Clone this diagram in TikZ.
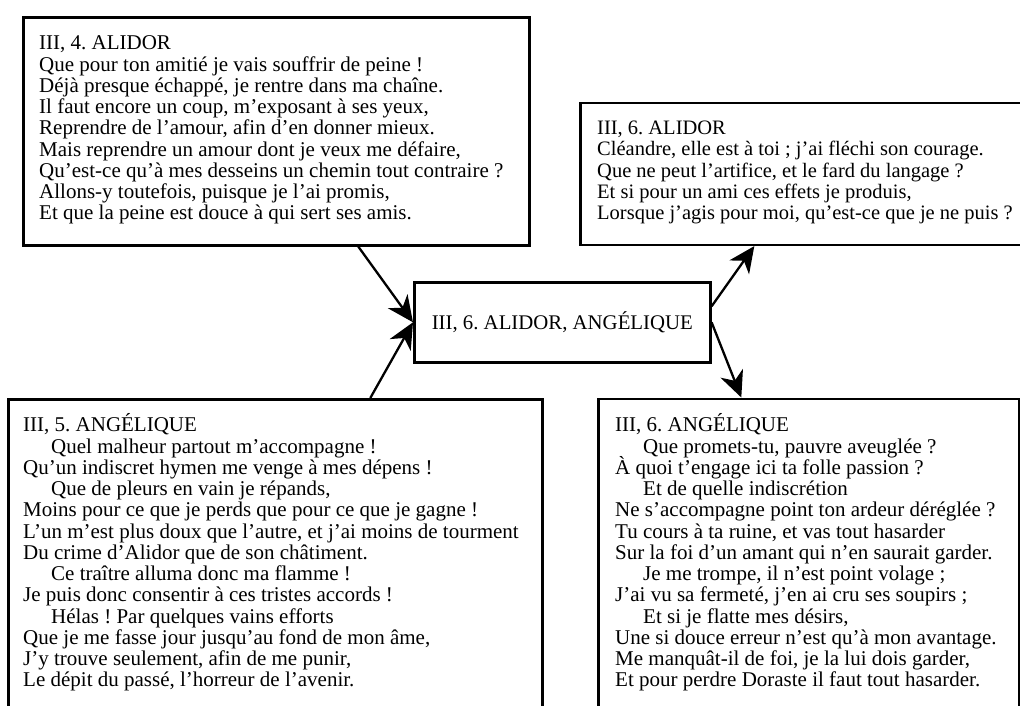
\documentclass[tikz,border=0pt]{standalone}
\usepackage{fontspec}
\setmainfont{Liberation Serif}
\usetikzlibrary{arrows.meta}
\newcommand\fstrut{\rule{0pt}{20pt}}
\newcommand\ind{\hspace*{28pt}}
\newcommand\versefont{\fontsize{21pt}{21.25pt}\selectfont\frenchspacing
  \lineskiplimit -100pt\relax \lineskip 0pt\relax}
\newcommand\narrowfont{\fontsize{20.5pt}{21.25pt}\selectfont\frenchspacing
  \lineskiplimit -100pt\relax \lineskip 0pt\relax}
\newcommand\centrefont{\fontsize{20.8pt}{21.25pt}\selectfont\frenchspacing}
\tikzset{
  box/.style={draw, line width=2.6pt, inner sep=0pt, anchor=north west},
  verse/.style={inner sep=0pt, anchor=north west, align=left, font=\versefont},
  arr/.style={line width=2.3pt, -{Stealth[length=26pt,width=24pt,inset=8pt]}}
}
\begin{document}
\begin{tikzpicture}[x=1pt,y=-1pt]
\useasboundingbox (0,0) rectangle (1020,705);
% boxes
\node[box, minimum width=506pt, minimum height=228pt] (tl) at (22,16) {};
\node[box, minimum width=442pt, minimum height=142pt] (tr) at (579,101.5) {};
\node[box, minimum width=296pt, minimum height=80pt, font=\centrefont] (c) at (413,281) {III, 6. ALIDOR, ANGÉLIQUE};
\node[box, minimum width=534pt, minimum height=330pt] (bl) at (7,398) {};
\node[box, minimum width=421pt, minimum height=330pt] (br) at (597,397.5) {};
% texts
\node[verse] (tlt) at (39,29.6) {\fstrut III, 4. ALIDOR\\
Que pour ton amitié je vais souffrir de peine !\\
Déjà presque échappé, je rentre dans ma chaîne.\\
Il faut encore un coup, m’exposant à ses yeux,\\
Reprendre de l’amour, afin d’en donner mieux.\\
Mais reprendre un amour dont je veux me défaire,\\
Qu’est-ce qu’à mes desseins un chemin tout contraire ?\\
Allons-y toutefois, puisque je l’ai promis,\\
Et que la peine est douce à qui sert ses amis.};
\node[verse, font=\narrowfont] (trt) at (597,114.3) {\fstrut III, 6. ALIDOR\\
Cléandre, elle est à toi ; j’ai fléchi son courage.\\
Que ne peut l’artifice, et le fard du langage ?\\
Et si pour un ami ces effets je produis,\\
Lorsque j’agis pour moi, qu’est-ce que je ne puis ?};
\node[verse] (blt) at (23,411.7) {\fstrut III, 5. ANGÉLIQUE\\
\ind Quel malheur partout m’accompagne !\\
Qu’un indiscret hymen me venge à mes dépens !\\
\ind Que de pleurs en vain je répands,\\
Moins pour ce que je perds que pour ce que je gagne !\\
L’un m’est plus doux que l’autre, et j’ai moins de tourment\\
Du crime d’Alidor que de son châtiment.\\
\ind Ce traître alluma donc ma flamme !\\
Je puis donc consentir à ces tristes accords !\\
\ind Hélas ! Par quelques vains efforts\\
Que je me fasse jour jusqu’au fond de mon âme,\\
J’y trouve seulement, afin de me punir,\\
Le dépit du passé, l’horreur de l’avenir.};
\node[verse] (brt) at (615,411.7) {\fstrut III, 6. ANGÉLIQUE\\
\ind Que promets-tu, pauvre aveuglée ?\\
À quoi t’engage ici ta folle passion ?\\
\ind Et de quelle indiscrétion\\
Ne s’accompagne point ton ardeur déréglée ?\\
Tu cours à ta ruine, et vas tout hasarder\\
Sur la foi d’un amant qui n’en saurait garder.\\
\ind Je me trompe, il n’est point volage ;\\
J’ai vu sa fermeté, j’en ai cru ses soupirs ;\\
\ind Et si je flatte mes désirs,\\
Une si douce erreur n’est qu’à mon avantage.\\
Me manquât-il de foi, je la lui dois garder,\\
Et pour perdre Doraste il faut tout hasarder.};
% connectors
\draw[arr] ([xshift=82pt]tl.south) -- (c.west);
\draw[arr] ([xshift=95pt]bl.north) -- (c.west);
\draw[arr] ([yshift=16pt]c.east) -- ([xshift=-47pt]tr.south);
\draw[arr] (c.east) -- ([xshift=-67.5pt]br.north);
\end{tikzpicture}
\end{document}
